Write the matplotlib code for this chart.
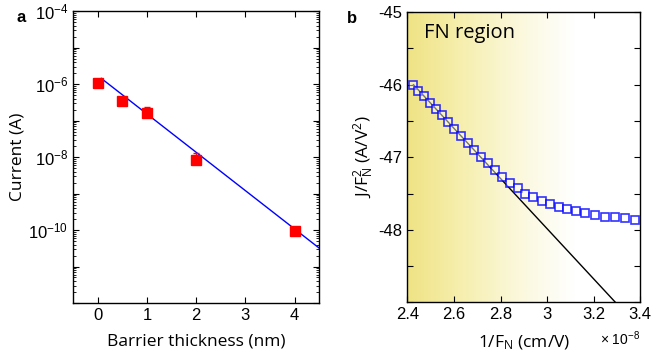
import numpy as np
import matplotlib.pyplot as plt
from matplotlib.colors import LinearSegmentedColormap
from matplotlib.ticker import LogLocator, NullFormatter, MultipleLocator

plt.rcParams['font.family'] = ['Liberation Sans', 'DejaVu Sans']
plt.rcParams['mathtext.fontset'] = 'custom'
plt.rcParams['mathtext.rm'] = 'Open Sans'
plt.rcParams['mathtext.it'] = 'Open Sans:italic'
plt.rcParams['mathtext.sf'] = 'Liberation Sans'

# panel a: tunnelling current vs barrier thickness
thickness = [0, 0.5, 1, 2, 4]
current = [1.1e-6, 3.4e-7, 1.65e-7, 8.1e-9, 9.2e-11]
current_err_up = [0.2e-6, 0.3e-7, 0.75e-7, 4.9e-9, 2.0e-11]
current_err_dn = [0.1e-6, 0.3e-7, 0.3e-7, 1.5e-9, 1.0e-11]
# exponential fit: log10(I) = fit_b + fit_k * d
fit_k = -1.05
fit_b = -5.77
fit_range = [0.07, 4.5]

# panel b: Fowler-Nordheim plot, 1/F in units of 1e-8 cm/V
inv_field = [2.423, 2.447, 2.473, 2.498, 2.523, 2.550, 2.576, 2.602, 2.629, 2.658,
             2.687, 2.715, 2.746, 2.777, 2.808, 2.841, 2.874, 2.907, 2.941, 2.978,
             3.013, 3.049, 3.086, 3.124, 3.164, 3.204, 3.247, 3.291, 3.334, 3.379]
ln_j_f2 = [-46.01, -46.08, -46.16, -46.25, -46.33, -46.42, -46.51, -46.61, -46.71, -46.80,
           -46.90, -46.99, -47.08, -47.18, -47.27, -47.35, -47.42, -47.50, -47.55, -47.60,
           -47.64, -47.68, -47.71, -47.74, -47.77, -47.80, -47.82, -47.83, -47.84, -47.86]
fn_slope = -3.46
fn_x0, fn_y0 = 2.426, -46.0
fn_x1 = 3.45

fig = plt.figure(figsize=(6.54, 3.59), dpi=100)
label_font = dict(family=['Open Sans', 'DejaVu Sans'], fontsize=12.5)

ax1 = fig.add_axes([0.112, 0.156, 0.376, 0.813])
ax1.set_yscale('log')
xf = np.array(fit_range)
ax1.plot(xf, 10 ** (fit_b + fit_k * xf), color='blue', lw=1, zorder=2)
ax1.errorbar(thickness, current, yerr=[current_err_dn, current_err_up], fmt='s',
             color='red', ms=6.5, elinewidth=1, capsize=2, capthick=1, zorder=3)
ax1.set_xlim(-0.5, 4.5)
ax1.set_ylim(1e-12, 1e-4)
ax1.set_xticks([0, 1, 2, 3, 4])
ax1.set_yticks([1e-12, 1e-11, 1e-10, 1e-9, 1e-8, 1e-7, 1e-6, 1e-5, 1e-4])
ax1.set_yticklabels(['', '', r'$\mathsf{10^{-10}}$', '', r'$\mathsf{10^{-8}}$', '',
                     r'$\mathsf{10^{-6}}$', '', r'$\mathsf{10^{-4}}$'])
ax1.yaxis.set_minor_locator(LogLocator(base=10, subs=np.arange(2, 10), numticks=20))
ax1.yaxis.set_minor_formatter(NullFormatter())
ax1.set_xlabel('Barrier thickness (nm)', labelpad=8, **label_font)
ax1.set_ylabel('Current (A)', labelpad=2, **label_font)
ax1.text(-0.21, 0.979, 'a', transform=ax1.transAxes, fontsize=12, fontweight='bold',
         va='center', ha='center')

ax2 = fig.add_axes([0.623, 0.158, 0.356, 0.808])
fade = LinearSegmentedColormap.from_list('fade', ['#efe384', '#f6efb0', '#fbf8dc', '#ffffff'])
grad = np.clip(np.linspace(0, 1, 400) / 0.72, 0, 1)[None, :]
ax2.imshow(grad, cmap=fade, aspect='auto', extent=[0, 1, 0, 1],
           transform=ax2.transAxes, zorder=0, interpolation='bilinear')
xl = np.array([fn_x0, fn_x1])
ax2.plot(xl, fn_y0 + fn_slope * (xl - fn_x0), color='black', lw=1, zorder=2)
ax2.plot(inv_field, ln_j_f2, 's', ms=5.8, mfc=(1, 1, 1, 0.45),
         mec=(0, 0, 1, 0.8), mew=1.2, zorder=3)
ax2.set_xlim(2.4, 3.4)
ax2.set_ylim(-49, -45)
ax2.set_xticks(np.arange(2.4, 3.41, 0.2))
ax2.set_xticklabels(['2.4', '2.6', '2.8', '3', '3.2', '3.4'])
ax2.set_yticks([-48, -47, -46, -45])
ax2.set_yticklabels(['-48', '-47', '-46', '-45'])
ax2.yaxis.set_minor_locator(MultipleLocator(0.5))
ax2.set_xlabel(r'1/F$_\mathrm{N}$ (cm/V)', labelpad=8, **label_font)
ax2.set_ylabel(r'J/F$_\mathrm{N}^2$ (A/V$^2$)', labelpad=2, **label_font)
ax2.text(0.07, 0.93, 'FN region', transform=ax2.transAxes, fontsize=14.5,
         family=['Open Sans', 'DejaVu Sans'], va='center', ha='left')
ax2.text(1.0, -0.125, r'× 10$^{\mathsf{-8}}$', transform=ax2.transAxes, fontsize=10,
         ha='right', va='center')
ax2.text(-0.24, 0.979, 'b', transform=ax2.transAxes, fontsize=12, fontweight='bold',
         va='center', ha='center')

for ax in (ax1, ax2):
    ax.tick_params(which='both', direction='in', top=True, right=True, labelsize=12)
    ax.tick_params(which='major', length=4, width=0.8)
    ax.tick_params(which='minor', length=2, width=0.6)
    for s in ax.spines.values():
        s.set_linewidth(1)
ax2.tick_params(which='minor', length=4, width=0.8)

fig.savefig('out.png', dpi=100)
